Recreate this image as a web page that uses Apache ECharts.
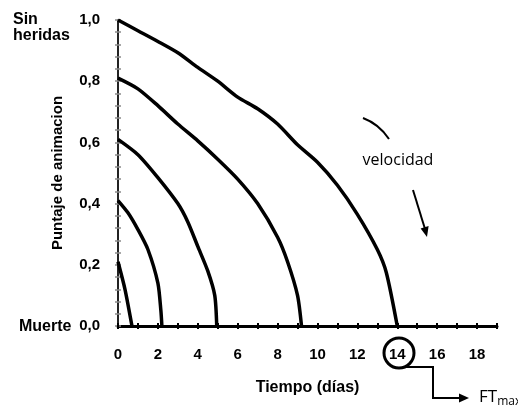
<!DOCTYPE html>
<html>
<head>
<meta charset="utf-8">
<script src="https://cdn.jsdelivr.net/npm/echarts@6/dist/echarts.min.js"></script>
<style>
  html, body { margin: 0; padding: 0; background: #fff; }
  #chart { width: 518px; height: 406px; }
</style>
</head>
<body>
<div id="chart"></div>
<script>
// ---- Data ----
// Each curve: [tiempo (días), puntaje de animacion]
const curveFT14 = [[0,1.0],[1,0.965],[2,0.93],[3,0.893],[4,0.845],[5,0.80],[6,0.748],[7,0.71],[8,0.66],[9,0.592],[10,0.535],[11,0.46],[12,0.365],[13,0.25],[13.45,0.175],[14,0]];
const curveFT9  = [[0,0.81],[1,0.775],[2,0.72],[3,0.66],[4,0.605],[5,0.545],[6,0.48],[7,0.40],[8,0.29],[8.5,0.21],[9,0.10],[9.2,0]];
const curveFT5  = [[0,0.61],[1,0.56],[2,0.485],[3,0.40],[3.5,0.34],[4,0.26],[4.5,0.18],[4.85,0.10],[4.95,0]];
const curveFT2  = [[0,0.41],[0.5,0.37],[1,0.315],[1.5,0.25],[2,0.14],[2.15,0.05],[2.2,0]];
const curveFT1  = [[0,0.21],[0.35,0.12],[0.7,0]];

const xTickLabels = ['0','2','4','6','8','10','12','14','16','18'];
const yTickLabels = ['0,0','0,2','0,4','0,6','0,8','1,0'];
const xTitle = 'Tiempo (días)';
const yTitle = 'Puntaje de animacion';

const BOLD = 'Liberation Sans';
const chart = echarts.init(document.getElementById('chart'), null, { renderer: 'canvas' });

function mkLine(data) {
  return {
    type: 'line', data: data, xAxisIndex: 0, yAxisIndex: 0,
    showSymbol: false, symbol: 'none', smooth: 0.25,
    lineStyle: { color: '#000', width: 3.5 }, z: 5, silent: true
  };
}

const option = {
  animation: false,
  backgroundColor: '#fff',
  grid: { left: 118, right: 21, top: 20, bottom: 80 },
  xAxis: [
    {
      type: 'value', min: 0, max: 19, interval: 1, position: 'bottom',
      name: xTitle, nameLocation: 'middle', nameGap: 54,
      nameTextStyle: { fontFamily: BOLD, fontWeight: 'bold', fontSize: 16, color: '#000' },
      axisLine: { show: true, lineStyle: { color: '#000', width: 3 } },
      axisTick: { show: true, length: 3, lineStyle: { color: '#000', width: 2 } },
      axisLabel: {
        margin: 21, fontFamily: BOLD, fontWeight: 'bold', fontSize: 15, color: '#000',
        formatter: function (v) { const s = String(v); return xTickLabels.indexOf(s) >= 0 ? s : ''; }
      },
      splitLine: { show: false }
    },
    {
      type: 'value', min: 0, max: 19, interval: 1, position: 'bottom',
      axisLine: { show: false },
      axisTick: { show: true, inside: true, length: 3, lineStyle: { color: '#000', width: 2 } },
      axisLabel: { show: false }, splitLine: { show: false }
    },
    {
      type: 'value', min: 0, max: 19, position: 'top',
      axisLine: { show: true, lineStyle: { color: '#000', width: 1.5 } },
      axisTick: { show: false }, axisLabel: { show: false }, splitLine: { show: false }
    }
  ],
  yAxis: [
    {
      type: 'value', min: 0, max: 1, interval: 0.2, position: 'left',
      name: yTitle, nameLocation: 'middle', nameGap: 53, nameRotate: 90,
      nameTextStyle: { fontFamily: BOLD, fontWeight: 'bold', fontSize: 15, color: '#000' },
      axisLine: { show: true, lineStyle: { color: '#8a8a8a', width: 2 } },
      axisTick: { show: true, length: 3, lineStyle: { color: '#8a8a8a', width: 1.5 } },
      minorTick: { show: true, splitNumber: 5, length: 3, lineStyle: { color: '#8a8a8a', width: 1.5 } },
      axisLabel: {
        margin: 18, fontFamily: BOLD, fontWeight: 'bold', fontSize: 15, color: '#000',
        formatter: function (v) { return yTickLabels[Math.round(v * 5)]; }
      },
      splitLine: { show: false }
    },
    {
      type: 'value', min: 0, max: 1, interval: 0.2, position: 'left',
      axisLine: { show: false },
      axisTick: { show: true, inside: true, length: 3, lineStyle: { color: '#8a8a8a', width: 1.5 } },
      minorTick: { show: true, splitNumber: 5, length: 3, lineStyle: { color: '#8a8a8a', width: 1.5 } },
      axisLabel: { show: false }, splitLine: { show: false }
    },
    {
      type: 'value', min: 0, max: 1, position: 'right',
      axisLine: { show: true, lineStyle: { color: '#000', width: 1.5 } },
      axisTick: { show: false }, axisLabel: { show: false }, splitLine: { show: false }
    }
  ],
  series: [mkLine(curveFT14), mkLine(curveFT9), mkLine(curveFT5), mkLine(curveFT2), mkLine(curveFT1)],
  graphic: [
    { type: 'text', left: 13, top: 12, style: { text: 'Sin\nheridas', fontFamily: BOLD, fontWeight: 'bold', fontSize: 16, lineHeight: 16, fill: '#000' } },
    { type: 'text', x: 19, y: 327, style: { text: 'Muerte', fontFamily: BOLD, fontWeight: 'bold', fontSize: 16, fill: '#000', verticalAlign: 'middle', align: 'left' } },
    { type: 'text', x: 398, y: 160, style: { text: 'velocidad', fontFamily: 'Open Sans', fontSize: 16, fill: '#000', align: 'center', verticalAlign: 'middle' } },
    { type: 'bezierCurve', shape: { x1: 363, y1: 118, x2: 389, y2: 139, cpx1: 379, cpy1: 124 }, style: { stroke: '#000', lineWidth: 2, fill: null } },
    { type: 'line', shape: { x1: 413, y1: 190, x2: 425, y2: 229 }, style: { stroke: '#000', lineWidth: 2 } },
    { type: 'polygon', shape: { points: [[427, 237], [428.6, 226], [420.6, 228.4]] }, style: { fill: '#000' } },
    { type: 'circle', shape: { cx: 399, cy: 353, r: 15 }, style: { stroke: '#000', lineWidth: 3, fill: null } },
    { type: 'polyline', shape: { points: [[406, 367], [433, 367], [433, 398], [460, 398]] }, style: { stroke: '#000', lineWidth: 2, fill: null } },
    { type: 'polygon', shape: { points: [[469, 398], [459, 393.5], [459, 402.5]] }, style: { fill: '#000' } },
    { type: 'text', x: 479, y: 397, style: { text: '{a|FT}{b|max}', verticalAlign: 'middle', align: 'left',
        rich: { a: { fontFamily: 'Open Sans', fontSize: 17, fill: '#000', color: '#000' },
                b: { fontFamily: 'Open Sans', fontSize: 12, fill: '#000', color: '#000', padding: [9, 0, 0, 0] } } } }
  ]
};
chart.setOption(option);
</script>
</body>
</html>
